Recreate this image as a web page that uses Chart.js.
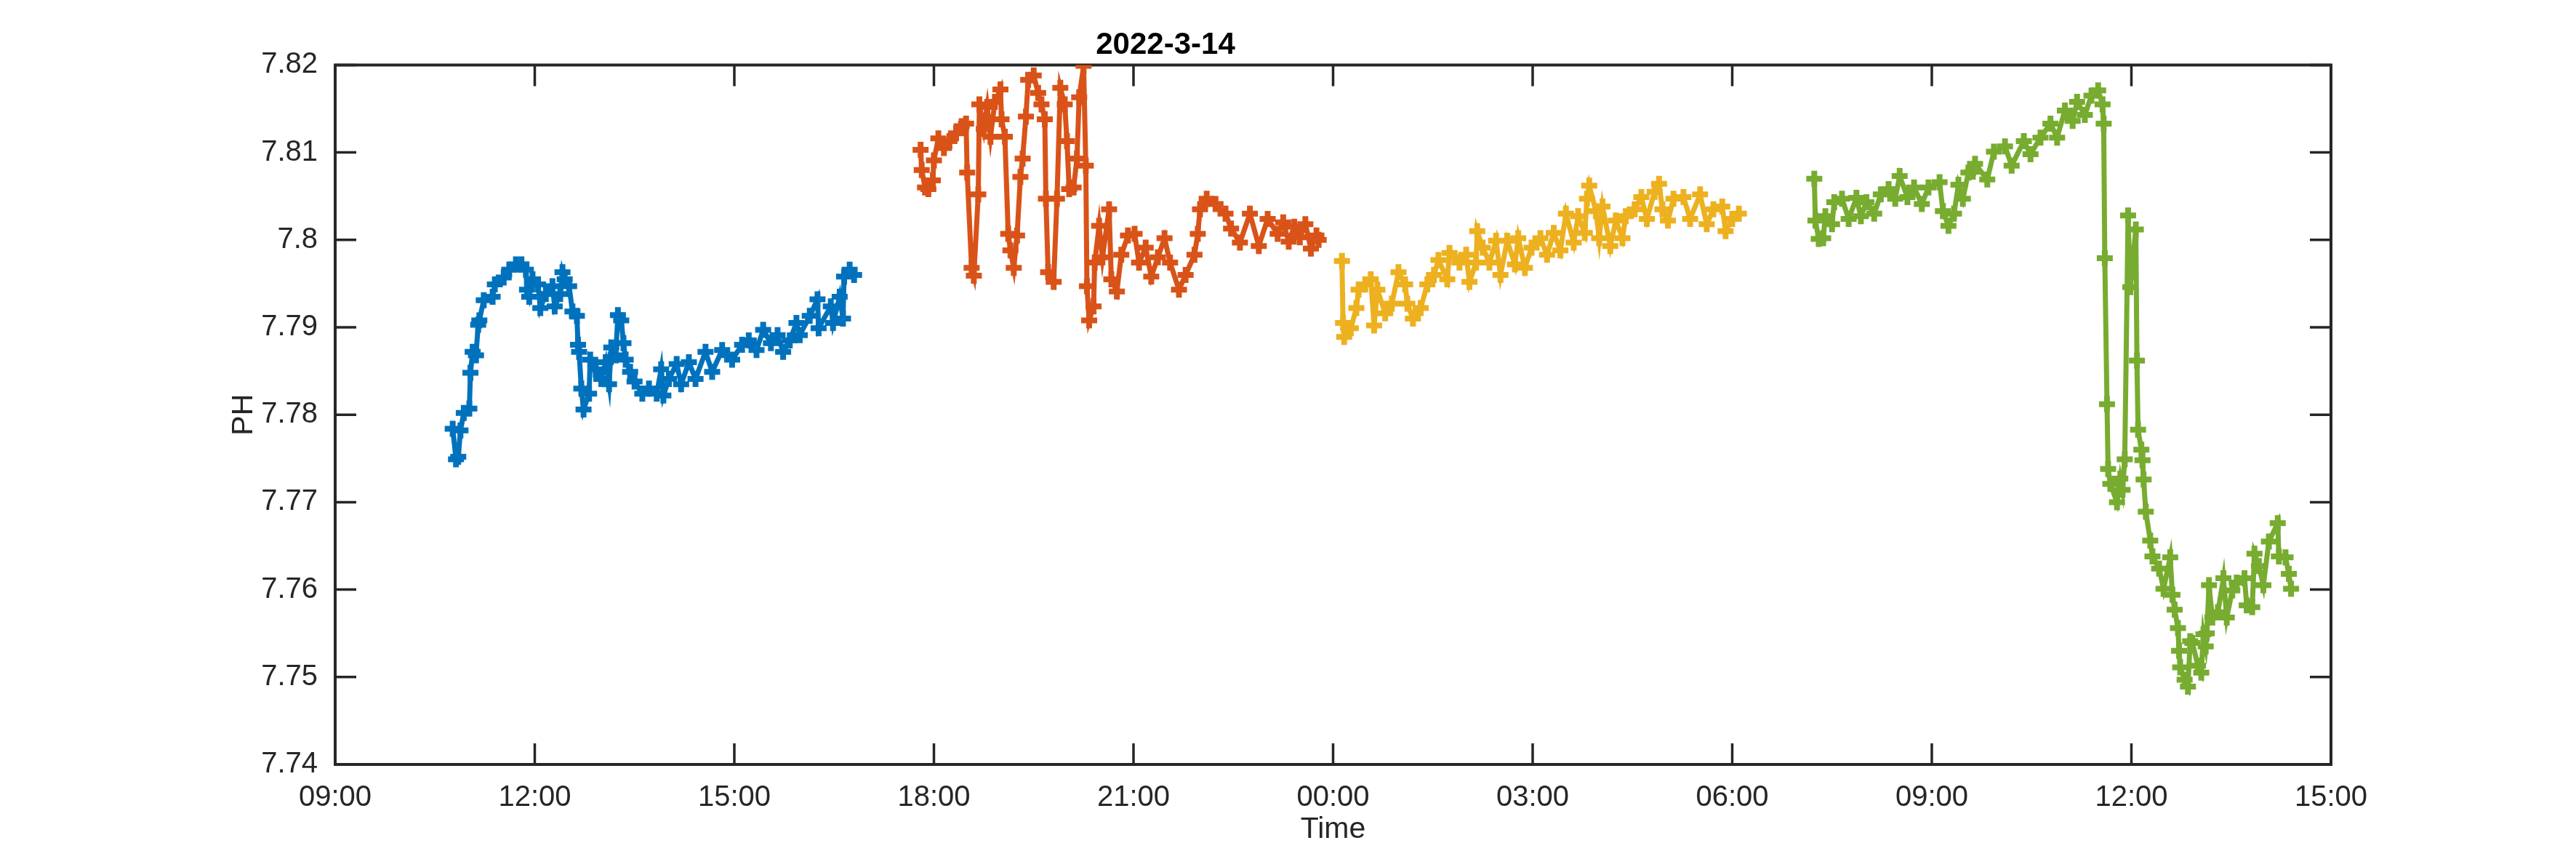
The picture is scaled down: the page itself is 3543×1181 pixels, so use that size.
<!DOCTYPE html>
<html>
<head>
<meta charset="utf-8">
<script src="https://cdn.jsdelivr.net/npm/chart.js@4.4.1/dist/chart.umd.min.js"></script>
<style>
  html, body { margin: 0; padding: 0; background: #fff; }
  #wrap { width: 3543px; height: 1181px; }
</style>
</head>
<body>
<div id="wrap"><canvas id="phChart" width="3543" height="1181"></canvas></div>
<script>
// x tick labels (every 3 h from 09:00 day 1 to 15:00 day 2)
const xTickLabels = ['09:00', '12:00', '15:00', '18:00', '21:00', '00:00', '03:00', '06:00', '09:00', '12:00', '15:00'];
const yTickLabels = ['7.74', '7.75', '7.76', '7.77', '7.78', '7.79', '7.8', '7.81', '7.82'];

// series 1 (14 Mar, day 0)
const blueTimes = ['10:46','10:49','10:51','10:53','10:56','11:01','11:02','11:04','11:07','11:09','11:10','11:14','11:22','11:24','11:32','11:37','11:43','11:48','11:52','11:53','11:55','11:58','12:03','12:05','12:10','12:16','12:18','12:23','12:25','12:27','12:31','12:34','12:38','12:39','12:40','12:42','12:44','12:49','12:50','12:55','13:00','13:04','13:07','13:09','13:13','13:15','13:18','13:20','13:22','13:26','13:30','13:37','13:43','13:50','13:54','13:56','14:01','14:08','14:12','14:19','14:25','14:34','14:40','14:49','14:58','15:07','15:13','15:20','15:26','15:33','15:39','15:44','15:50','15:56','15:59','16:08','16:15','16:16','16:27','16:29','16:35','16:38','16:39','16:44','16:48'];
const bluePH = [7.7784,7.7749,7.7752,7.7782,7.7802,7.7807,7.7848,7.7872,7.7868,7.7903,7.7908,7.7931,7.7935,7.7949,7.7957,7.7966,7.7972,7.7972,7.7966,7.7943,7.7935,7.7955,7.7949,7.7922,7.7938,7.7947,7.7924,7.7938,7.7963,7.7955,7.7947,7.7918,7.7913,7.7880,7.7872,7.7830,7.7806,7.7824,7.7863,7.7852,7.7841,7.7860,7.7835,7.7877,7.7868,7.7914,7.7908,7.7882,7.7863,7.7849,7.7838,7.7824,7.7830,7.7824,7.7852,7.7822,7.7841,7.7858,7.7835,7.7860,7.7841,7.7872,7.7849,7.7874,7.7863,7.7880,7.7885,7.7874,7.7897,7.7882,7.7891,7.7872,7.7885,7.7905,7.7891,7.7913,7.7932,7.7899,7.7924,7.7905,7.7935,7.7910,7.7958,7.7966,7.7960];

// series 2 (14 Mar evening, day 0)
const orangeTimes = ['17:48','17:49','17:52','17:55','17:59','18:00','18:04','18:09','18:14','18:20','18:25','18:29','18:30','18:34','18:36','18:40','18:41','18:45','18:48','18:51','18:55','19:00','19:01','19:04','19:07','19:09','19:12','19:15','19:18','19:20','19:23','19:25','19:30','19:34','19:37','19:40','19:41','19:43','19:48','19:51','19:54','19:58','20:00','20:02','20:06','20:09','20:11','20:15','20:17','20:18','20:20','20:24','20:25','20:29','20:32','20:38','20:40','20:45','20:49','20:55','21:01','21:05','21:11','21:16','21:22','21:28','21:33','21:41','21:47','21:55','21:58','22:00','22:06','22:14','22:23','22:28','22:36','22:45','22:53','23:01','23:10','23:15','23:20','23:25','23:30','23:35','23:40','23:45','23:47'];
const orangePH = [7.8103,7.8080,7.8060,7.8058,7.8068,7.8091,7.8116,7.8105,7.8113,7.8122,7.8130,7.8133,7.8077,7.7968,7.7959,7.8052,7.8155,7.8127,7.8152,7.8118,7.8158,7.8172,7.8138,7.8118,7.8007,7.7988,7.7968,7.8005,7.8072,7.8093,7.8141,7.8183,7.8188,7.8168,7.8155,7.8138,7.8047,7.7963,7.7952,7.8047,7.8174,7.8155,7.8113,7.8058,7.8060,7.8093,7.8163,7.8199,7.8085,7.7947,7.7908,7.7924,7.7974,7.8016,7.7980,7.8035,7.7955,7.7941,7.7983,7.8005,7.8007,7.7974,7.7991,7.7958,7.7980,7.8002,7.7974,7.7943,7.7960,7.7983,7.8007,7.8035,7.8047,7.8041,7.8030,7.8013,7.7997,7.8030,7.7993,7.8024,7.8007,7.8020,7.7998,7.8015,7.8003,7.8018,7.7990,7.8005,7.8000];

// series 3 (15 Mar night, day 1)
const yellowTimes = ['00:08','00:09','00:10','00:16','00:21','00:23','00:29','00:34','00:37','00:40','00:47','00:53','00:59','01:05','01:07','01:12','01:19','01:25','01:31','01:35','01:43','01:45','01:54','02:00','02:03','02:09','02:10','02:15','02:21','02:27','02:31','02:37','02:44','02:47','02:53','02:59','03:07','03:13','03:19','03:25','03:30','03:37','03:41','03:47','03:49','03:51','03:57','04:00','04:03','04:10','04:15','04:21','04:24','04:32','04:38','04:43','04:50','04:54','04:57','05:02','05:07','05:16','05:22','05:31','05:37','05:43','05:51','05:54','06:00','06:06'];
const yellowPH = [7.7976,7.7905,7.7889,7.7899,7.7922,7.7943,7.7949,7.7955,7.7902,7.7943,7.7916,7.7927,7.7963,7.7949,7.7927,7.7910,7.7922,7.7949,7.7960,7.7977,7.7955,7.7985,7.7974,7.7983,7.7952,7.7974,7.8010,7.7991,7.7974,7.7999,7.7960,7.7999,7.7972,7.8002,7.7968,7.7991,7.8002,7.7983,7.8008,7.7988,7.8030,7.7997,7.8027,7.8008,7.8047,7.8062,7.8033,7.8002,7.8038,7.7993,7.8022,7.8002,7.8027,7.8035,7.8049,7.8024,7.8055,7.8064,7.8035,7.8022,7.8047,7.8049,7.8024,7.8052,7.8018,7.8035,7.8038,7.8010,7.8024,7.8030];

// series 4 (15 Mar day, day 1)
const greenTimes = ['07:14','07:15','07:18','07:22','07:24','07:30','07:32','07:39','07:45','07:52','07:56','08:01','08:08','08:14','08:21','08:27','08:31','08:38','08:44','08:51','08:57','09:07','09:10','09:15','09:20','09:24','09:28','09:33','09:37','09:39','09:50','09:56','10:06','10:12','10:23','10:29','10:38','10:47','10:53','11:00','11:07','11:11','11:18','11:24','11:30','11:34','11:35','11:36','11:38','11:39','11:41','11:47','11:50','11:52','11:54','11:57','11:59','12:04','12:05','12:06','12:09','12:10','12:11','12:13','12:17','12:19','12:25','12:29','12:35','12:37','12:39','12:42','12:43','12:44','12:48','12:51','12:53','12:55','13:00','13:03','13:05','13:07','13:08','13:10','13:13','13:18','13:23','13:26','13:31','13:35','13:42','13:44','13:49','13:51','13:55','13:59','14:04','14:12','14:13','14:19','14:22','14:24'];
const greenPH = [7.8070,7.8022,7.8001,7.8002,7.8027,7.8018,7.8043,7.8047,7.8024,7.8048,7.8027,7.8043,7.8030,7.8052,7.8058,7.8047,7.8073,7.8049,7.8060,7.8041,7.8060,7.8066,7.8033,7.8016,7.8030,7.8063,7.8047,7.8077,7.8078,7.8087,7.8069,7.8101,7.8107,7.8085,7.8113,7.8098,7.8117,7.8133,7.8117,7.8148,7.8136,7.8158,7.8143,7.8165,7.8171,7.8155,7.8133,7.7979,7.7812,7.7738,7.7721,7.7700,7.7727,7.7714,7.7749,7.8028,7.7946,7.8012,7.7862,7.7783,7.7760,7.7748,7.7726,7.7689,7.7656,7.7638,7.7624,7.7601,7.7637,7.7594,7.7577,7.7556,7.7530,7.7511,7.7497,7.7489,7.7541,7.7539,7.7513,7.7505,7.7549,7.7535,7.7550,7.7605,7.7568,7.7574,7.7613,7.7568,7.7599,7.7608,7.7613,7.7582,7.7580,7.7641,7.7627,7.7605,7.7655,7.7676,7.7638,7.7637,7.7618,7.7601];

const seriesColors = ['#0072BD', '#D95319', '#EDB120', '#77AC30'];

// "HH:MM" -> hours counted from midnight of 14 Mar
function toHours(t, day) {
  const [h, m] = t.split(':').map(Number);
  return day * 24 + h + m / 60;
}

function makeSeries(times, values, day, color) {
  return {
    data: times.map((t, i) => ({ x: toHours(t, day), y: values[i] })),
    borderColor: color,
    backgroundColor: color,
    borderWidth: 7,
    pointStyle: 'cross',
    pointRadius: 11,
    pointBorderWidth: 8,
    pointHoverRadius: 11,
    tension: 0,
    fill: false
  };
}

const axisColor = '#262626';
const fontFamily = '"Liberation Sans", Arial, Helvetica, sans-serif';

// matlab style box with inward ticks on all four sides
const boxPlugin = {
  id: 'boxAxes',
  beforeDatasetsDraw(chart) {
    const { ctx, chartArea: a, scales: { x, y } } = chart;
    const tl = 29;
    ctx.save();
    ctx.strokeStyle = axisColor;
    ctx.lineWidth = 3.5;
    ctx.beginPath();
    x.ticks.forEach(t => {
      const px = x.getPixelForValue(t.value);
      ctx.moveTo(px, a.bottom); ctx.lineTo(px, a.bottom - tl);
      ctx.moveTo(px, a.top); ctx.lineTo(px, a.top + tl);
    });
    y.ticks.forEach(t => {
      const py = y.getPixelForValue(t.value);
      ctx.moveTo(a.left, py); ctx.lineTo(a.left + tl, py);
      ctx.moveTo(a.right, py); ctx.lineTo(a.right - tl, py);
    });
    ctx.stroke();
    ctx.lineWidth = 4;
    ctx.strokeRect(a.left, a.top, a.right - a.left, a.bottom - a.top);
    ctx.restore();
  }
};

new Chart(document.getElementById('phChart'), {
  type: 'line',
  data: {
    datasets: [
      makeSeries(blueTimes, bluePH, 0, seriesColors[0]),
      makeSeries(orangeTimes, orangePH, 0, seriesColors[1]),
      makeSeries(yellowTimes, yellowPH, 1, seriesColors[2]),
      makeSeries(greenTimes, greenPH, 1, seriesColors[3])
    ]
  },
  options: {
    responsive: false,
    animation: false,
    devicePixelRatio: 1,
    layout: { padding: { left: 0, right: 337, top: 0, bottom: 0 } },
    plugins: {
      legend: { display: false },
      tooltip: { enabled: false },
      title: {
        display: true,
        text: '2022-3-14',
        color: '#000',
        font: { family: fontFamily, size: 42, weight: 'bold' },
        padding: { top: 37, bottom: 2 }
      }
    },
    scales: {
      x: {
        type: 'linear',
        min: 9,
        max: 39,
        grid: { display: false },
        border: { display: false },
        ticks: {
          stepSize: 3,
          autoSkip: false,
          maxRotation: 0,
          padding: 14,
          color: axisColor,
          font: { family: fontFamily, size: 40 },
          callback: (v, i) => xTickLabels[i]
        },
        title: {
          display: true,
          text: 'Time',
          color: axisColor,
          font: { family: fontFamily, size: 41 },
          padding: { top: 0, bottom: 16 }
        },
        afterFit: s => { s.height = 130; }
      },
      y: {
        min: 7.74,
        max: 7.82,
        grid: { display: false },
        border: { display: false },
        ticks: {
          stepSize: 0.01,
          autoSkip: false,
          padding: 16,
          color: axisColor,
          font: { family: fontFamily, size: 40 },
          callback: (v, i) => yTickLabels[i]
        },
        title: {
          display: true,
          text: 'PH',
          color: axisColor,
          font: { family: fontFamily, size: 41 },
          padding: { top: 311, bottom: 0 }
        },
        afterFit: s => { s.width = 461; }
      }
    }
  },
  plugins: [boxPlugin]
});
</script>
</body>
</html>
